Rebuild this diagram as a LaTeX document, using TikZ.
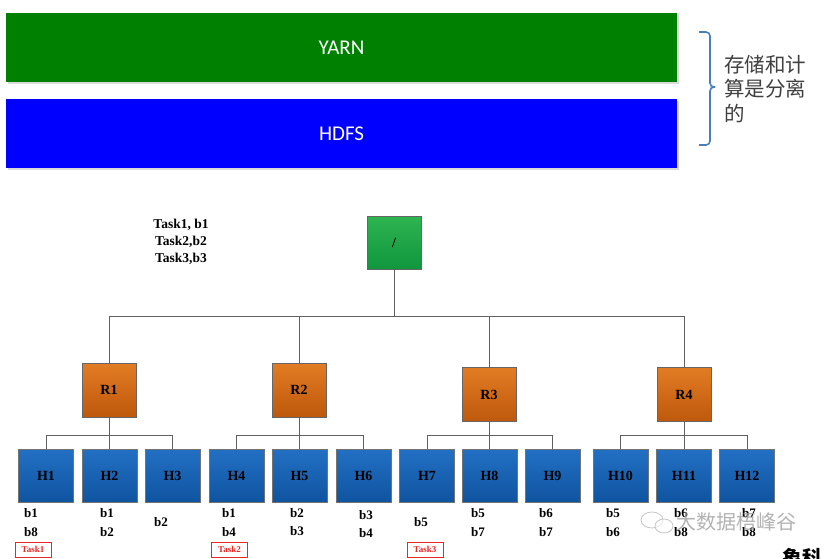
\documentclass[tikz,border=0pt]{standalone}
\usepackage{fontspec}
\setmainfont{Liberation Serif}
\newfontfamily\cjk{Noto Sans CJK SC}
\newfontfamily\calib{Carlito}
\usetikzlibrary{calc}
\definecolor{yarngreen}{RGB}{0,128,0}
\definecolor{hdfsblue}{RGB}{0,0,255}
\definecolor{bracecol}{RGB}{74,126,187}
\definecolor{linecol}{RGB}{96,96,96}
\definecolor{rootA}{RGB}{46,180,80}
\definecolor{rootB}{RGB}{16,150,62}
\definecolor{orA}{RGB}{226,124,36}
\definecolor{orB}{RGB}{190,88,12}
\definecolor{blA}{RGB}{34,112,196}
\definecolor{blB}{RGB}{16,84,160}
\definecolor{taskred}{RGB}{230,40,40}
\tikzset{
  bar/.style={draw=none, minimum width=671pt, minimum height=69pt, inner sep=0pt, text=white, font=\calib\fontsize{21}{24}\selectfont},
  rootbox/.style={draw=black!60, line width=0.6pt, top color=rootA, bottom color=rootB, minimum width=54pt, minimum height=53pt, inner sep=0pt, font=\bfseries\fontsize{14}{16}\selectfont},
  rackbox/.style={draw=black!60, line width=0.6pt, top color=orA, bottom color=orB, minimum width=54pt, minimum height=54pt, inner sep=0pt, font=\bfseries\fontsize{14}{16}\selectfont},
  hostbox/.style={draw=black!55, line width=0.6pt, top color=blA, bottom color=blB, minimum width=55pt, minimum height=53pt, inner sep=0pt, font=\bfseries\fontsize{14}{16}\selectfont},
  blk/.style={align=center, inner sep=0pt, font=\bfseries\fontsize{13}{18.5}\selectfont},
  taskbox/.style={draw=taskred, line width=0.7pt, text=taskred, minimum width=36pt, minimum height=15pt, inner sep=0pt, font=\bfseries\fontsize{9}{10}\selectfont},
  conn/.style={draw=linecol, line width=0.8pt},
}
\begin{document}
\begin{tikzpicture}[x=1pt,y=-1pt]
\useasboundingbox (0,0) rectangle (824,558);
\clip (0,0) rectangle (824,558);
\fill[white] (0,0) rectangle (824,558);
% top bars
\fill[black!15] (8,15) rectangle (679,84);
\node[bar, fill=yarngreen] (yarn) at (341.5,47.5) {YARN};
\fill[black!15] (8,101) rectangle (679,170);
\node[bar, fill=hdfsblue] (hdfs) at (341.5,133.5) {HDFS};
% brace
\draw[bracecol, line width=1.6pt, rounded corners=4pt] (699,32) -- (710,32) -- (710,87) -- (715,87);
\draw[bracecol, line width=1.6pt, rounded corners=4pt] (715,87) -- (710,87) -- (710,145) -- (699,145);
\node[anchor=west, align=left, inner sep=0pt, text=black!75, font=\cjk\fontsize{20.5}{24.5}\selectfont] (sep) at (724,89) {存储和计\\算是分离\\的};
% task list
\node[align=center, inner sep=0pt, font=\bfseries\fontsize{13.5}{17}\selectfont] (tasks) at (181,242) {Task1, b1\\Task2,b2\\Task3,b3};
% tree
\node[rootbox] (root) at (394,242.5) {/};
\node[rackbox] (R1) at (109,390) {R1};
\node[rackbox] (R2) at (299,390) {R2};
\node[rackbox] (R3) at (489,394.5) {R3};
\node[rackbox] (R4) at (684,394.5) {R4};
\foreach \i/\x in {1/46,2/109.5,3/172.5,4/236.5,5/299.5,6/363.5,7/427,8/489.5,9/552.5,10/620.5,11/684,12/747}{
  \node[hostbox] (H\i) at (\x,475.5) {H\i};
}
\coordinate (rootbar) at (394,316);
\draw[conn] (root.south) -- (rootbar);
\foreach \r in {1,2,3,4}{ \draw[conn] (R\r.north) |- (rootbar); }
\foreach \r in {1,2,3,4}{
  \coordinate (bar\r) at ($(R\r.south)!1!(R\r.south)$);
}
\coordinate (b1) at (109,435);
\coordinate (b2) at (299,435);
\coordinate (b3) at (489,435);
\coordinate (b4) at (684,435);
\foreach \r in {1,2,3,4}{ \draw[conn] (R\r.south) -- (b\r); }
\foreach \h/\r in {1/1,2/1,3/1,4/2,5/2,6/2,7/3,8/3,9/3,10/4,11/4,12/4}{
  \draw[conn] (H\h.north) |- (b\r);
}
% block labels
\node[blk] (L1) at (31,522.5) {b1\\b8};
\node[blk] (L2) at (107,522.5) {b1\\b2};
\node[blk] (L3) at (161,522.5) {b2};
\node[blk] (L4) at (229,522.5) {b1\\b4};
\node[blk] (L5) at (297,522) {b2\\b3};
\node[blk] (L6) at (366,524) {b3\\b4};
\node[blk] (L7) at (421,522) {b5};
\node[blk] (L8) at (478,522.5) {b5\\b7};
\node[blk] (L9) at (546,522.5) {b6\\b7};
\node[blk] (L10) at (613,522.5) {b5\\b6};
\node[blk] (L11) at (681,522.5) {b6\\b8};
\node[blk] (L12) at (749,522.5) {b7\\b8};
% task boxes
\node[taskbox] (T1) at (33,549.5) {Task1};
\node[taskbox] (T2) at (229.5,549.5) {Task2};
\node[taskbox] (T3) at (425,549.5) {Task3};
% watermark
\draw[gray!45, line width=0.8pt, fill=white, fill opacity=0.6] (652,520) ellipse (11pt and 8pt);
\draw[gray!45, line width=0.8pt, fill=white, fill opacity=0.6] (664,526) ellipse (9pt and 7pt);
\node[inner sep=0pt, text=gray!70, text opacity=0.85, font=\cjk\fontsize{20}{22}\selectfont] (wm) at (736,522) {大数据梧峰谷};
\node[anchor=north west, inner sep=0pt, font=\cjk\bfseries\fontsize{20}{22}\selectfont] (cut) at (782,548) {象科};
\end{tikzpicture}
\end{document}
